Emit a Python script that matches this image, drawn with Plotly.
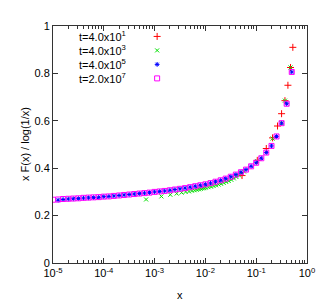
import plotly.graph_objects as go

# ---- data ----
series_names = ["t=4.0x10<sup>1</sup>", "t=4.0x10<sup>3</sup>", "t=4.0x10<sup>5</sup>", "t=2.0x10<sup>7</sup>"]
series_colors = ["#ff0000", "#00e000", "#0000ff", "#ff00ff"]

x_t1 = [0.0526, 0.105, 0.158, 0.21, 0.263, 0.316, 0.368, 0.421, 0.474, 0.526]
y_t1 = [0.369, 0.433, 0.483, 0.528, 0.578, 0.630, 0.685, 0.750, 0.825, 0.910]

x_t3 = [6.8e-4, 1.36e-3, 2.04e-3, 2.72e-3, 3.40e-3, 4.08e-3, 4.76e-3, 5.44e-3, 6.12e-3,
        6.80e-3, 7.48e-3, 8.16e-3, 8.84e-3, 9.52e-3, 0.0102, 0.0115, 0.0129, 0.0145,
        0.0162, 0.0182, 0.0204, 0.0229, 0.0257, 0.0288, 0.0324, 0.0363, 0.0407, 0.0457,
        0.0513, 0.0575, 0.105, 0.21, 0.316, 0.368, 0.474]
y_t3 = [0.268, 0.281, 0.288, 0.293, 0.297, 0.300, 0.302, 0.305, 0.307,
        0.309, 0.311, 0.313, 0.315, 0.316, 0.318, 0.320, 0.322, 0.325,
        0.328, 0.331, 0.334, 0.338, 0.342, 0.346, 0.351, 0.357, 0.363, 0.370,
        0.378, 0.386, 0.430, 0.525, 0.590, 0.685, 0.825]

x_t5 = [1.26e-5, 1.58e-5, 2.0e-5, 2.51e-5, 3.16e-5, 3.98e-5, 5.01e-5, 6.31e-5, 7.94e-5,
        1.0e-4, 1.26e-4, 1.58e-4, 2.0e-4, 2.51e-4, 3.16e-4, 3.98e-4, 5.01e-4, 6.31e-4, 7.94e-4,
        1.0e-3, 1.26e-3, 1.58e-3, 2.0e-3, 2.51e-3, 3.16e-3, 3.98e-3, 5.01e-3, 6.31e-3, 7.94e-3,
        0.01, 0.0126, 0.0158, 0.02, 0.0251, 0.0316, 0.0398, 0.0501, 0.0631, 0.0794,
        0.1, 0.126, 0.158, 0.2, 0.251, 0.316, 0.398, 0.501]
y_t5 = [0.265, 0.268, 0.270, 0.271, 0.272, 0.274, 0.275, 0.276, 0.277,
        0.280, 0.281, 0.283, 0.285, 0.287, 0.289, 0.291, 0.293, 0.295, 0.297,
        0.300, 0.302, 0.304, 0.307, 0.310, 0.313, 0.316, 0.320, 0.324, 0.328,
        0.332, 0.337, 0.343, 0.349, 0.356, 0.364, 0.373, 0.383, 0.394, 0.408,
        0.423, 0.442, 0.466, 0.494, 0.534, 0.590, 0.672, 0.806]

x_t7 = [1.0e-5, 1.26e-5, 1.58e-5, 2.0e-5, 2.51e-5, 3.16e-5, 3.98e-5, 5.01e-5, 6.31e-5, 7.94e-5,
        1.0e-4, 1.26e-4, 1.58e-4, 2.0e-4, 2.51e-4, 3.16e-4, 3.98e-4, 5.01e-4, 6.31e-4, 7.94e-4,
        1.0e-3, 1.26e-3, 1.58e-3, 2.0e-3, 2.51e-3, 3.16e-3, 3.98e-3, 5.01e-3, 6.31e-3, 7.94e-3,
        0.01, 0.0126, 0.0158, 0.02, 0.0251, 0.0316, 0.0398, 0.0501, 0.0631, 0.0794,
        0.1, 0.126, 0.158, 0.2, 0.251, 0.316, 0.398, 0.501]
y_t7 = [0.267, 0.268, 0.270, 0.271, 0.272, 0.273, 0.275, 0.276, 0.277, 0.278,
        0.280, 0.281, 0.283, 0.285, 0.287, 0.289, 0.291, 0.293, 0.295, 0.297,
        0.300, 0.302, 0.304, 0.307, 0.310, 0.313, 0.316, 0.320, 0.324, 0.328,
        0.332, 0.337, 0.343, 0.349, 0.356, 0.364, 0.373, 0.383, 0.394, 0.408,
        0.423, 0.442, 0.466, 0.494, 0.534, 0.590, 0.672, 0.806]

x_tickvals = [1e-5, 1e-4, 1e-3, 1e-2, 1e-1, 1]
x_ticktext = ["10<sup>-5</sup>", "10<sup>-4</sup>", "10<sup>-3</sup>", "10<sup>-2</sup>", "10<sup>-1</sup>", "10<sup>0</sup>"]
x_minor = [m * d for d in [1e-5, 1e-4, 1e-3, 1e-2, 1e-1] for m in range(2, 10)]
y_tickvals = [0, 0.2, 0.4, 0.6, 0.8, 1]
y_ticktext = ["0", "0.2", "0.4", "0.6", "0.8", "1"]

symbols = ["cross-thin-open", "x-thin-open", "asterisk-open", "square-open"]
sizes = [5, 4, 4, 5]
xs = [x_t1, x_t3, x_t5, x_t7]
ys = [y_t1, y_t3, y_t5, y_t7]

FONT = "Liberation Sans, Arial, sans-serif"
AX = "#333333"

fig = go.Figure()
for name, col, sym, sz, xx, yy in zip(series_names, series_colors, symbols, sizes, xs, ys):
    fig.add_trace(go.Scatter(x=xx, y=yy, mode="markers", name=name, showlegend=False,
                             marker=dict(symbol=sym, size=sz, color=col,
                                         line=dict(width=1, color=col))))

# legend keys (text left, symbol right, gnuplot style) on an inset overlay axis
key_y = [0.956, 0.897, 0.838, 0.779]
for name, col, sym, sz, ky in zip(series_names, series_colors, symbols, sizes, key_y):
    fig.add_trace(go.Scatter(x=[0.41], y=[ky], xaxis="x2", yaxis="y2", mode="markers",
                             showlegend=False, hoverinfo="skip",
                             marker=dict(symbol=sym, size=sz, color=col,
                                         line=dict(width=1, color=col))))
    fig.add_annotation(x=0.095, y=ky, xref="paper", yref="paper", text=name,
                       showarrow=False, xanchor="left", yanchor="middle",
                       font=dict(family=FONT, size=11, color="#000000"))

fig.update_layout(
    width=332, height=304,
    margin=dict(l=45, r=33, t=15, b=49),
    paper_bgcolor="white", plot_bgcolor="white",
    font=dict(family=FONT, size=11, color="#000000"),
    showlegend=False,
    xaxis=dict(type="log", range=[-5, 0], tickmode="array", tickvals=x_tickvals, ticktext=x_ticktext,
               ticks="inside", ticklen=5, tickcolor=AX, showline=True, linecolor=AX, linewidth=1,
               mirror="ticks", showgrid=False, zeroline=False,
               minor=dict(tickmode="array", tickvals=x_minor, ticks="inside", ticklen=3, tickcolor=AX),
               tickfont=dict(size=11)),
    yaxis=dict(range=[0, 1], tickmode="array", tickvals=y_tickvals, ticktext=y_ticktext,
               ticks="inside", ticklen=5, tickcolor=AX, showline=True, linecolor=AX, linewidth=1,
               mirror="ticks", showgrid=False, zeroline=False, tickfont=dict(size=11)),
    xaxis2=dict(overlaying="x", range=[0, 1], visible=False, anchor="y2"),
    yaxis2=dict(overlaying="y", range=[0, 1], visible=False, anchor="x2"),
)

fig.add_annotation(x=0.5, y=-0.133, xref="paper", yref="paper", text="x", showarrow=False,
                   xanchor="center", yanchor="middle", font=dict(family=FONT, size=11))
fig.add_annotation(x=-0.112, y=0.5, xref="paper", yref="paper", text="x F(x) / log(1/x)",
                   showarrow=False, textangle=-90, xanchor="center", yanchor="middle",
                   font=dict(family=FONT, size=11))

fig.write_html("out.html")
